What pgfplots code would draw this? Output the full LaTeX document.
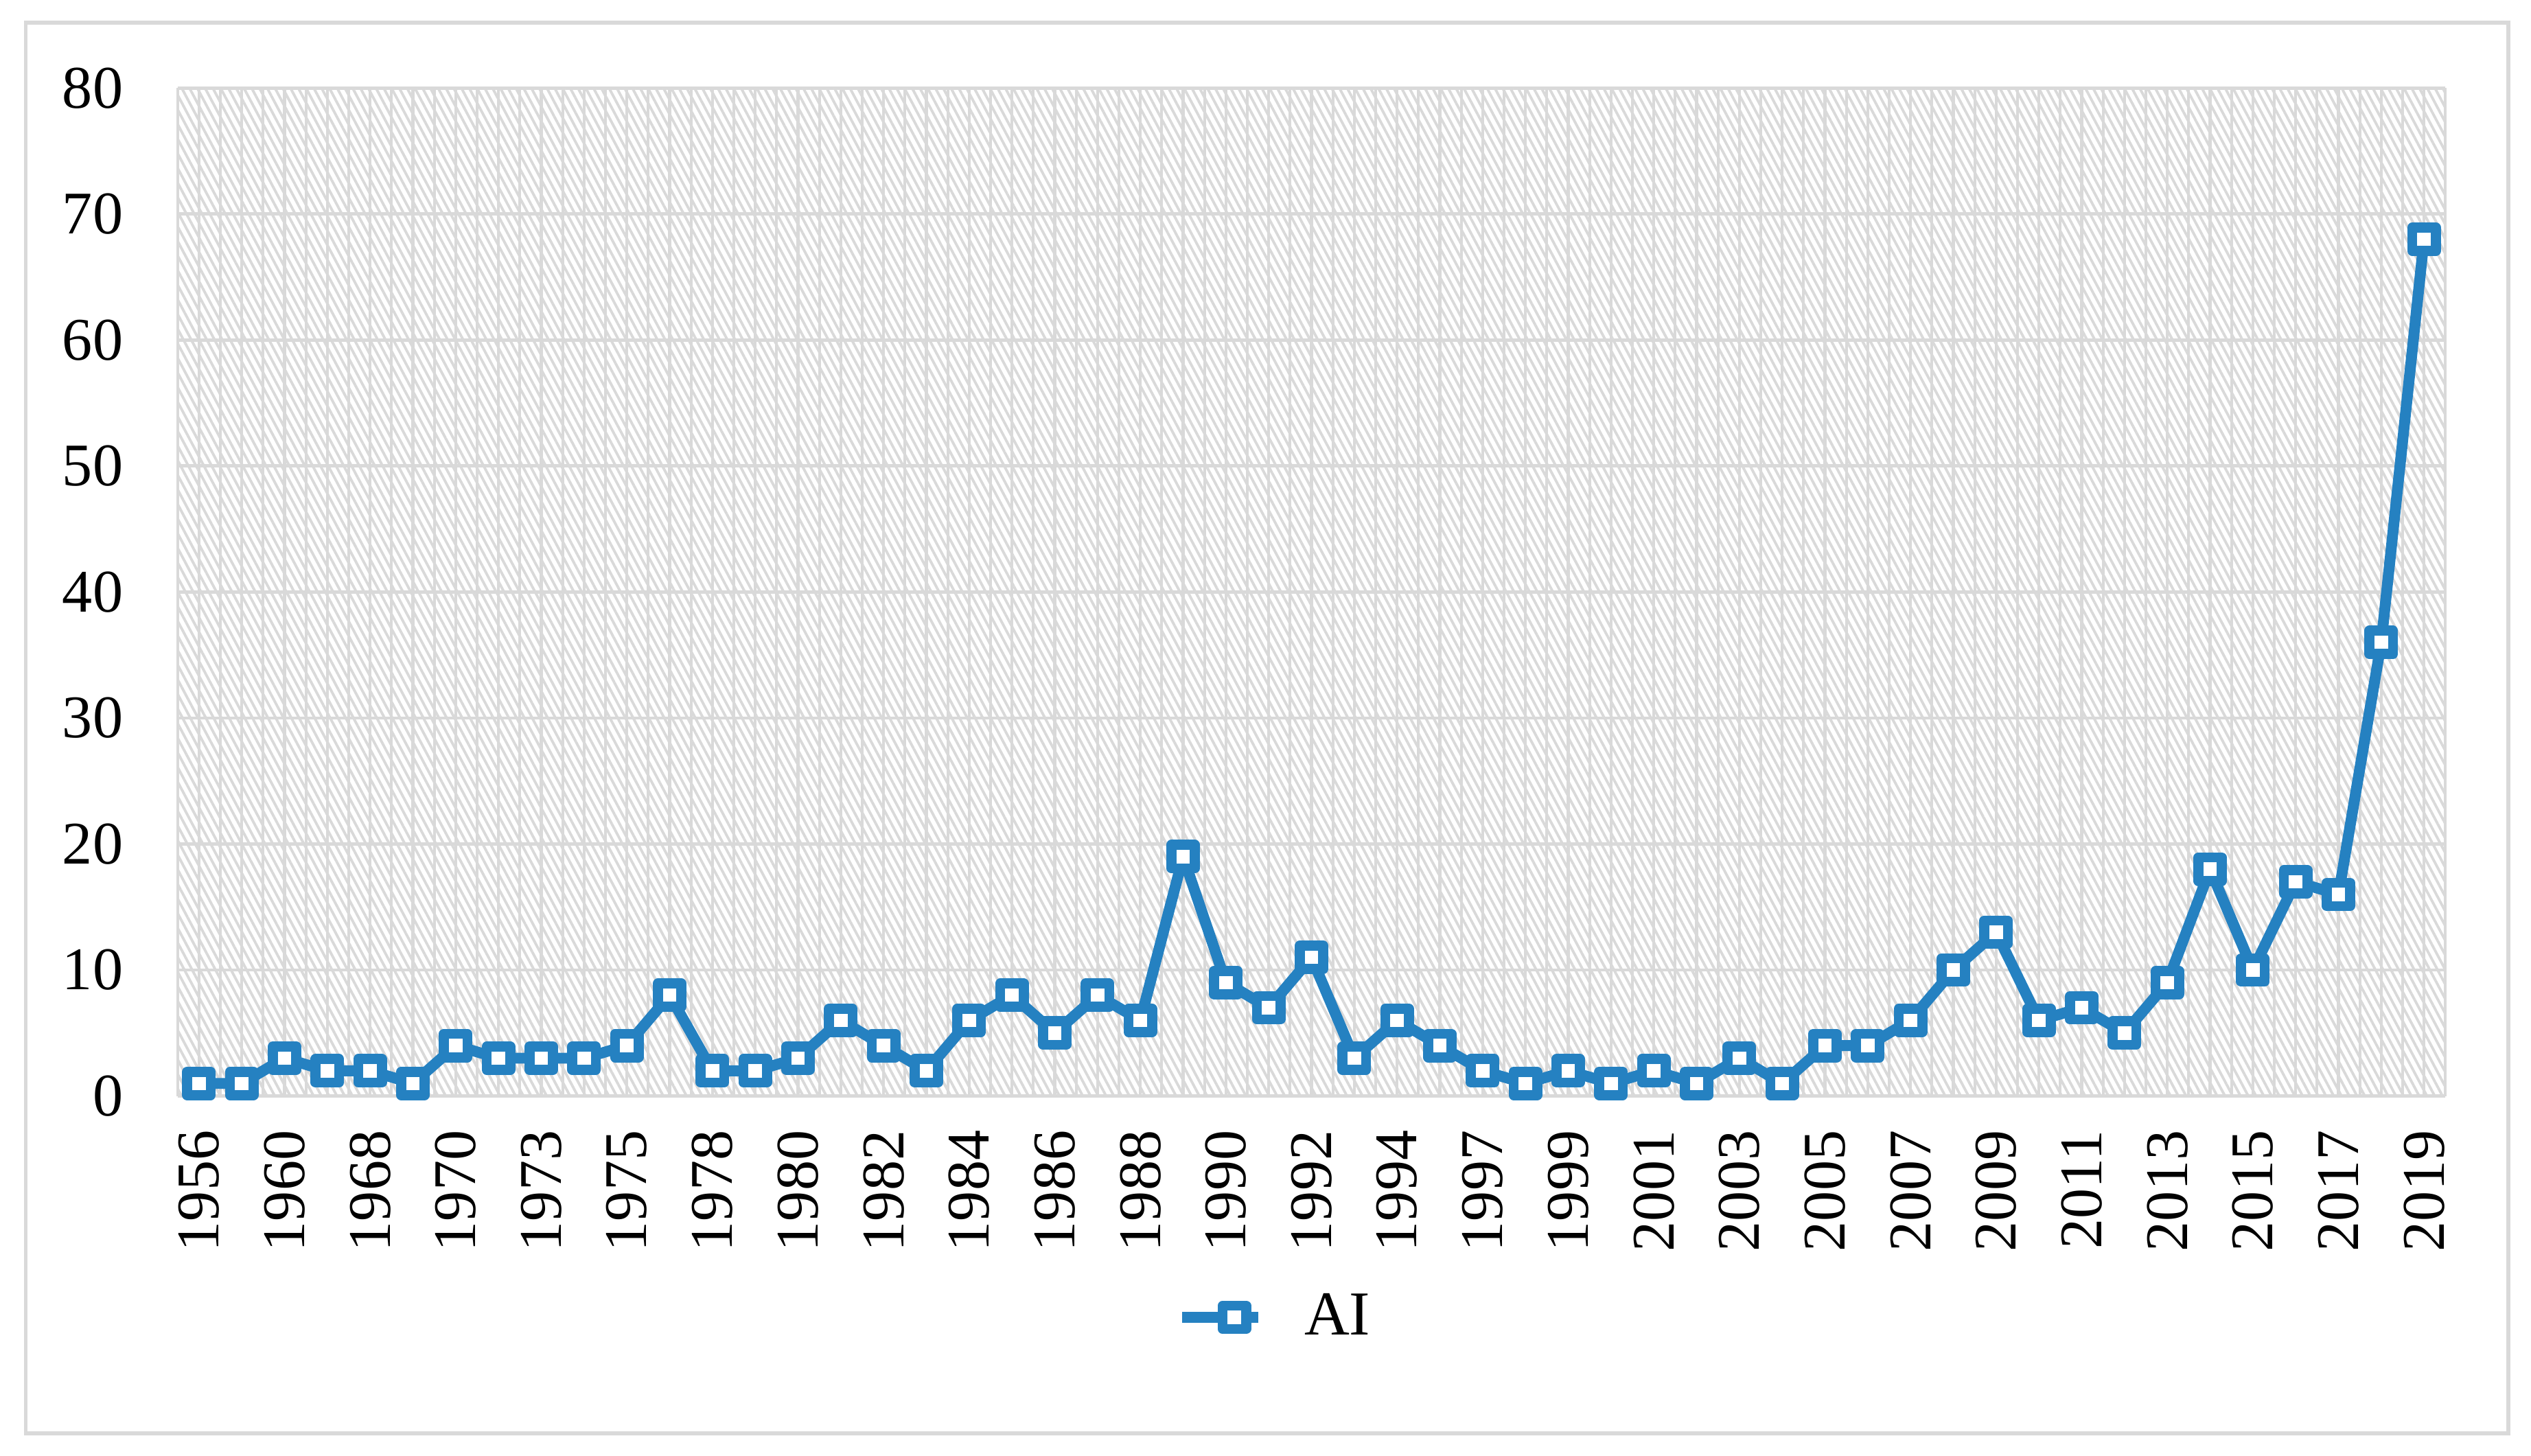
\documentclass[border=0pt]{standalone}
\usepackage{pgfplots}
\pgfplotsset{compat=1.18}
\usepackage{fontspec}
\setmainfont{Liberation Serif}
\usetikzlibrary{patterns.meta}
\definecolor{aiblue}{HTML}{2581C1}
\definecolor{gridgray}{HTML}{D9D9D9}
\begin{document}
\begin{tikzpicture}
\path[use as bounding box] (-44pt,-89.2pt) rectangle (583.2pt,271.6pt);
\draw[gridgray, line width=0.9pt] (-37.6pt,-83.6pt) rectangle (577.6pt,266pt);
\begin{axis}[
  scale only axis,
  width=562pt, height=249.8pt,
  xmin=-0.5, xmax=52.5, ymin=0, ymax=80,
  axis line style={draw=none},
  axis x line*=bottom,
  axis y line*=left,
  xtick={0,2,...,52},
  xticklabels={1956,1960,1968,1970,1973,1975,1978,1980,1982,1984,1986,1988,1990,1992,1994,1997,1999,2001,2003,2005,2007,2009,2011,2013,2015,2017,2019},
  x tick label style={rotate=90, anchor=east, font=\fontsize{15}{18}\selectfont},
  xticklabel shift=5pt,
  ytick={0,10,...,80},
  y tick label style={font=\fontsize{15}{18}\selectfont},
  /pgf/number format/assume math mode=true,
  major tick length=0pt, minor tick length=0pt,
  minor xtick={-0.5,0,...,52.5},
  xminorgrids=true, xmajorgrids=false,
  ymajorgrids=true,
  minor grid style={gridgray, line width=0.7pt},
  major grid style={gridgray, line width=0.8pt},
  yticklabel style={xshift=-10pt},
  axis background/.style={preaction={fill=white}, pattern={Lines[angle=-62,distance=1.7pt,line width=0.65pt]}, pattern color=gridgray},
  legend style={at={(0.485,-0.2196)}, anchor=center, draw=none, fill=none, font=\fontsize{15.5}{18}\selectfont},
  legend image code/.code={\draw[#1] (0pt,0pt) -- (19pt,0pt); \draw[#1, only marks] plot coordinates {(13pt,0pt)};},
  clip=false,
]
\draw[gridgray, line width=0.9pt] (axis cs:-0.5,0) -- (axis cs:52.5,0);
\addplot[color=aiblue, line width=2.7pt, line join=round, mark=square*, mark size=2.9pt, mark options={fill=white, line width=2.5pt, line join=round}]
coordinates {
(0,1)(1,1)(2,3)(3,2)(4,2)(5,1)(6,4)(7,3)(8,3)(9,3)
(10,4)(11,8)(12,2)(13,2)(14,3)(15,6)(16,4)(17,2)(18,6)(19,8)
(20,5)(21,8)(22,6)(23,19)(24,9)(25,7)(26,11)(27,3)(28,6)(29,4)
(30,2)(31,1)(32,2)(33,1)(34,2)(35,1)(36,3)(37,1)(38,4)(39,4)
(40,6)(41,10)(42,13)(43,6)(44,7)(45,5)(46,9)(47,18)(48,10)(49,17)
(50,16)(51,36)(52,68)
};
\addlegendentry{\hspace{8pt}AI}
\end{axis}
\end{tikzpicture}
\end{document}
